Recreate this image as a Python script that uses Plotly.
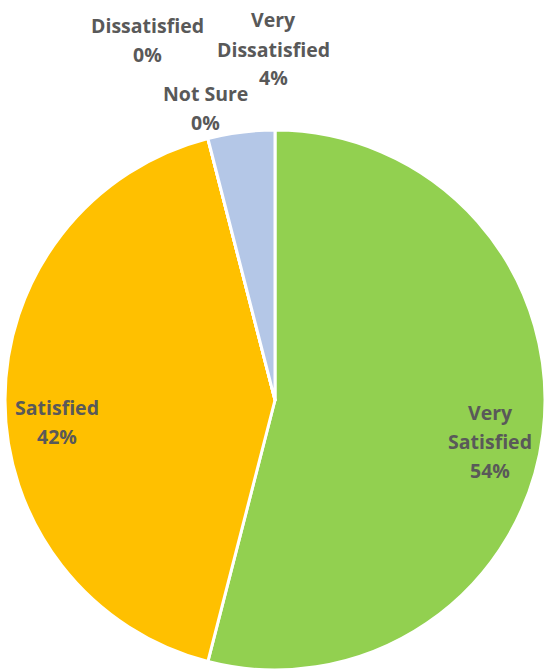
import plotly.graph_objects as go

# Survey satisfaction breakdown (percent of responses)
categories = ["Very Satisfied", "Satisfied", "Not Sure", "Dissatisfied", "Very Dissatisfied"]
shares = [54, 42, 0, 0, 4]
colors = ["#92D050", "#FFC000", "#A5A5A5", "#ED7D31", "#B4C7E7"]

# label anchor points in pixels (centre of each text block) and line breaks
label_lines = [
    ["Very", "Satisfied"],
    ["Satisfied"],
    ["Not Sure"],
    ["Dissatisfied"],
    ["Very", "Dissatisfied"],
]
label_px = [(490, 441), (57, 422), (205, 108), (147, 40), (273, 49)]

W, H = 545, 670
LINE_H = 29
FONT = dict(family="'Open Sans', sans-serif", size=19.5, color="#595959")

fig = go.Figure(
    go.Pie(
        labels=categories,
        values=shares,
        marker=dict(colors=colors, line=dict(color="white", width=3)),
        sort=False,
        direction="clockwise",
        rotation=0,
        textinfo="none",
        hoverinfo="label+percent",
        domain=dict(x=[5 / W, 545 / W], y=[0, 1 - 130 / H]),
        showlegend=False,
    )
)

annotations = []
for lines, val, (cx, cy) in zip(label_lines, shares, label_px):
    rows = lines + [f"{val}%"]
    n = len(rows)
    for i, row in enumerate(rows):
        py = cy + (i - (n - 1) / 2) * LINE_H
        annotations.append(
            dict(
                x=cx / W, y=1 - py / H, xref="paper", yref="paper",
                text=f"<b>{row}</b>", showarrow=False,
                xanchor="center", yanchor="middle", font=FONT,
            )
        )

fig.update_layout(
    width=W, height=H,
    margin=dict(l=0, r=0, t=0, b=0),
    paper_bgcolor="white",
    plot_bgcolor="white",
    annotations=annotations,
)

fig.write_html("out.html")
